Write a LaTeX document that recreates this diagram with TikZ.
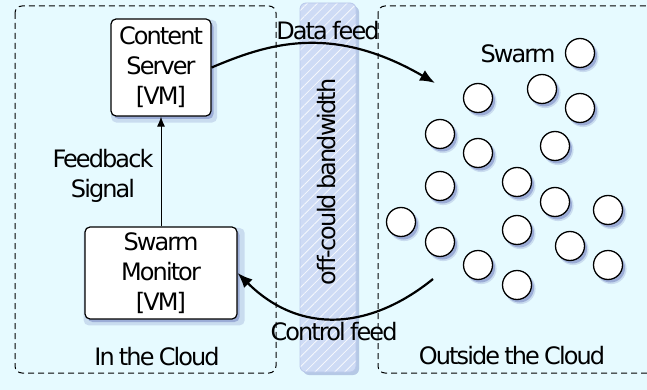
\documentclass[tikz,border=0pt]{standalone}
\usepackage{fontspec}
\setmainfont{DejaVu Sans}[LetterSpace=-8, WordSpace=0.75]
\usetikzlibrary{shadows,arrows.meta,patterns.meta}
\definecolor{bgc}{RGB}{230,250,255}
\definecolor{bandc}{RGB}{206,219,245}
\definecolor{bandedge}{RGB}{185,200,235}
\definecolor{shadowc}{RGB}{70,85,170}
\tikzset{
  softshadow/.style={
    drop shadow={shadow xshift=3pt, shadow yshift=-3.5pt, shadow scale=1.06, fill=shadowc, opacity=0.18},
    drop shadow={shadow xshift=2.5pt, shadow yshift=-3pt, fill=shadowc, opacity=0.35}},
  region/.style={draw=black, line width=1pt, dash pattern=on 6pt off 4pt, rounded corners=7pt},
  vmbox/.style={draw=black, fill=white, line width=1.2pt, rounded corners=5pt, align=center, inner sep=0pt, softshadow},
  peer/.style={circle, draw=black, fill=white, line width=1.3pt, minimum size=29pt, inner sep=0pt, softshadow},
  feed/.style={line width=2.2pt, -{Latex[length=15pt,width=12pt]}},
  lbl/.style={inner sep=0pt, align=center}
}
\begin{document}
\begin{tikzpicture}[x=1pt, y=-1pt, font=\fontsize{24}{30}\selectfont]
\useasboundingbox (0,0) rectangle (647,390);
\fill[bgc] (0,0) rectangle (647,390);
\begin{scope}
\clip (0,0) rectangle (647,390);
% regions
\draw[region] (15,6) rectangle (276,373);
\draw[region] (378,6) rectangle (668,373);
% band
\fill[bandc, rounded corners=6pt, drop shadow={shadow xshift=3pt, shadow yshift=-3pt, fill=shadowc, opacity=0.3}] (300,3) rectangle (356,372);
\fill[pattern={Lines[angle=45,distance=7pt,line width=0.8pt]}, pattern color=white!80!bandc, rounded corners=6pt] (300,3) rectangle (356,372);
\draw[bandedge, line width=0.8pt, rounded corners=6pt] (300,3) rectangle (356,372);
\end{scope}
\node[lbl, rotate=90] (bw) at (327,182) {off-could bandwidth};

% VM boxes
\node[vmbox, minimum width=100pt, minimum height=97pt] (cs) at (161,67.5) {Content\\Server\\{[VM]}};
\node[vmbox, minimum width=152pt, minimum height=92pt] (sm) at (161,273) {Swarm\\Monitor\\{[VM]}};
\draw[line width=1pt, -{Latex[length=10pt,width=8pt]}] (sm.north) -- (cs.south);
\node[lbl] (fb) at (103,176) {Feedback\\Signal};

% swarm
\foreach \n/\x/\y in {p1/580/53, p2/478/98, p3/542/89, p4/580/108, p5/440/134, p6/478/153,
  p7/555/146, p8/440/186, p9/517/182, p10/555/202, p11/608/210, p12/401/222, p13/440/242,
  p14/517/230, p15/570/246, p16/478/265, p17/608/265, p18/517/285}
  \node[peer] (\n) at (\x,\y) {};
\node[lbl] (swarm) at (518,54) {Swarm};

% feeds
\coordinate (dtip) at (435,83);
\coordinate (cstart) at (433,279);
\draw[feed] (cs.east) .. controls (265,45) and (330,22) .. (dtip);
\draw[feed] (cstart) .. controls (370,330) and (300,335) .. (sm.east);
\node[lbl] (df) at (328,31) {Data feed};
\node[lbl] (cf) at (334,332) {Control feed};

% region labels
\node[lbl] (inc) at (157,357) {In the Cloud};
\node[lbl] (outc) at (512,356) {Outside the Cloud};
\end{tikzpicture}
\end{document}
